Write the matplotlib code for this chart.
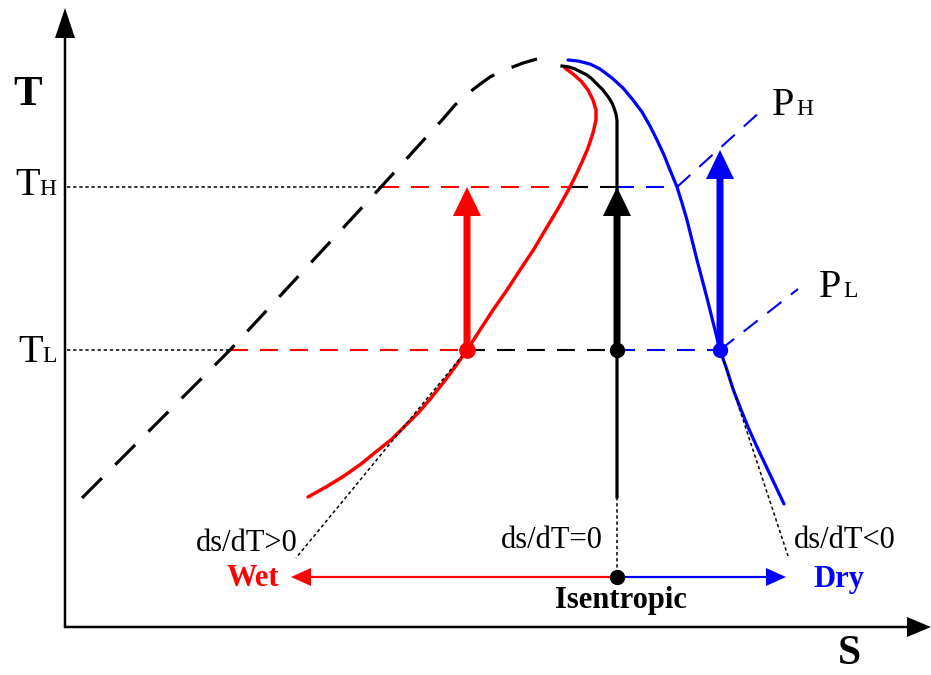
import matplotlib.pyplot as plt
from matplotlib.patches import FancyArrow

plt.rcParams['font.family'] = ['Liberation Serif', 'DejaVu Serif']

# schematic T-s diagram, s to the right, T upward (arbitrary units)
sat_liq_s = [82, 230, 381, 430, 443, 455, 465, 475, 483, 490, 500, 510, 523, 537]
sat_liq_T = [177, 325, 488, 542, 556, 570, 579, 587, 593, 598, 603, 607, 612, 616]

wet_s = [308, 326, 344, 361, 377, 392, 406, 419, 431, 443, 455, 467, 480, 493, 507, 520, 534,
         547, 559, 570, 576, 582, 588, 593, 596, 596, 593, 588, 581, 573, 565]
wet_T = [178, 188, 199, 211, 224, 236, 250, 263, 277, 292, 308, 325, 345, 365, 385, 405, 426,
         448, 468, 488, 500, 513, 527, 542, 555, 565, 575, 585, 594, 601, 607]

isen_s = [617, 617, 617, 616, 614, 612, 609, 606, 603, 599, 595, 591, 587, 581, 575, 569, 562]
isen_T = [178, 548, 555, 561, 567, 572, 577, 581, 585, 589, 593, 597, 600, 603, 606, 608, 609]

dry_s = [568, 578, 590, 600, 612, 623, 633, 642, 650, 657, 664, 670, 677, 682, 687, 692, 697,
         702, 707, 712, 717, 720, 727, 733, 740, 748, 757, 766, 775, 784]
dry_T = [615, 614, 611, 606, 597, 587, 575, 563, 549, 535, 520, 505, 488, 472, 455, 435, 415,
         396, 377, 357, 337, 325, 305, 286, 268, 248, 228, 209, 190, 171]

T_H = 488
T_L = 325
# where the T_H / T_L lines meet: axis, sat. liquid, wet, isentropic, dry curves
th_cross = [67, 381, 570, 616, 677]
tl_cross = [67, 230, 467, 617, 720]

PH_s = [677, 762]
PH_T = [488, 565]
PL_s = [720, 798]
PL_T = [325, 386]

wet_tan_s = [467, 296]
wet_tan_T = [325, 117]
dry_tan_s = [720, 788]
dry_tan_T = [325, 119]

row_T = 98          # Wet / Isentropic / Dry arrow row
wet_tip = 291
dry_tip = 786
blue_tip_T = 525

fig = plt.figure(figsize=(9.31, 6.75), dpi=100)
ax = fig.add_axes([0, 0, 1, 1])
ax.set_xlim(0, 931)
ax.set_ylim(0, 675)
ax.axis('off')

# axes arrows
ax.add_patch(FancyArrow(65, 47, 0, 620, width=2.5, head_width=20, head_length=30,
                        length_includes_head=True, color='black', lw=0))
ax.add_patch(FancyArrow(64, 48, 867, 0, width=2.5, head_width=20, head_length=24,
                        length_includes_head=True, color='black', lw=0))

dash_lw = 1.5
dot_style = dict(color='black', lw=1.1, dashes=(2.2, 1.8))
dash_style = dict(lw=dash_lw, dashes=(8.6, 5.8))

# T_H and T_L guide lines
for T, xs in [(T_H, th_cross), (T_L, tl_cross)]:
    ax.plot([xs[0], xs[1]], [T, T], **dot_style)
    ax.plot([xs[1], xs[2]], [T, T], color='red', **dash_style)
    ax.plot([xs[2], xs[3]], [T, T], color='black', **dash_style)
    ax.plot([xs[3], xs[4]], [T, T], color='blue', **dash_style)

ax.plot(PH_s, PH_T, color='blue', **dash_style)
ax.plot(PL_s, PL_T, color='blue', **dash_style)

# saturation curves
ax.plot(sat_liq_s, sat_liq_T, color='black', lw=2.3, dashes=(8.8, 5.9))
ax.plot(wet_s, wet_T, color='red', lw=2.5, solid_capstyle='round', solid_joinstyle='round')
ax.plot(isen_s, isen_T, color='black', lw=2.3, solid_joinstyle='round')
ax.plot(dry_s, dry_T, color='blue', lw=2.3, solid_capstyle='round', solid_joinstyle='round')

# tangents
ax.plot(wet_tan_s, wet_tan_T, **dot_style)
ax.plot(dry_tan_s, dry_tan_T, **dot_style)
ax.plot([isen_s[0], isen_s[0]], [isen_T[0], row_T], **dot_style)

# compression arrows
for x0, tip, c in [(tl_cross[2], T_H, 'red'), (tl_cross[3], T_H, 'black'),
                   (tl_cross[4], blue_tip_T, 'blue')]:
    ax.add_patch(FancyArrow(x0, T_L, 0, tip - T_L, width=7, head_width=28, head_length=29,
                            length_includes_head=True, color=c, lw=0, zorder=4))

ax.plot(tl_cross[2], T_L, 'o', color='red', ms=11, zorder=5)
ax.plot(tl_cross[3], T_L, 'o', color='black', ms=10, zorder=5)
ax.plot(tl_cross[4], T_L, 'o', color='blue', ms=10, zorder=5)

# wet / dry arrows
ax.add_patch(FancyArrow(isen_s[0], row_T, wet_tip - isen_s[0], 0, width=2.2, head_width=18,
                        head_length=20, length_includes_head=True, color='red', lw=0))
ax.add_patch(FancyArrow(isen_s[0], row_T, dry_tip - isen_s[0], 0, width=2.2, head_width=18,
                        head_length=20, length_includes_head=True, color='blue', lw=0))
ax.plot(isen_s[0], row_T, 'o', color='black', ms=10, zorder=5)

# labels
ax.text(13, 570, 'T', fontsize=31, fontweight='bold', va='baseline')
ax.text(838, 11, 'S', fontsize=30, fontweight='bold', va='baseline')

def sub_label(x, y, a, b):
    ax.text(x, y, a, fontsize=29, va='baseline')
    ax.text(x + 24, y, b, fontsize=17, va='baseline')

sub_label(15, 480, 'T', 'H')
sub_label(18, 313, 'T', 'L')
sub_label(772, 560, 'P', 'H')
sub_label(819, 378, 'P', 'L')

ax.text(247, 124, 'ds/dT>0', fontsize=22, ha='center', va='baseline')
ax.text(552, 127, 'ds/dT=0', fontsize=22, ha='center', va='baseline')
ax.text(845, 127, 'ds/dT<0', fontsize=22, ha='center', va='baseline')
ax.text(253, 89, 'Wet', fontsize=22, fontweight='bold', color='red', ha='center', va='baseline')
ax.text(839, 88, 'Dry', fontsize=22, fontweight='bold', color='blue', ha='center', va='baseline')
ax.text(621, 67, 'Isentropic', fontsize=22, fontweight='bold', ha='center', va='baseline')

fig.savefig('out.png', dpi=100)
